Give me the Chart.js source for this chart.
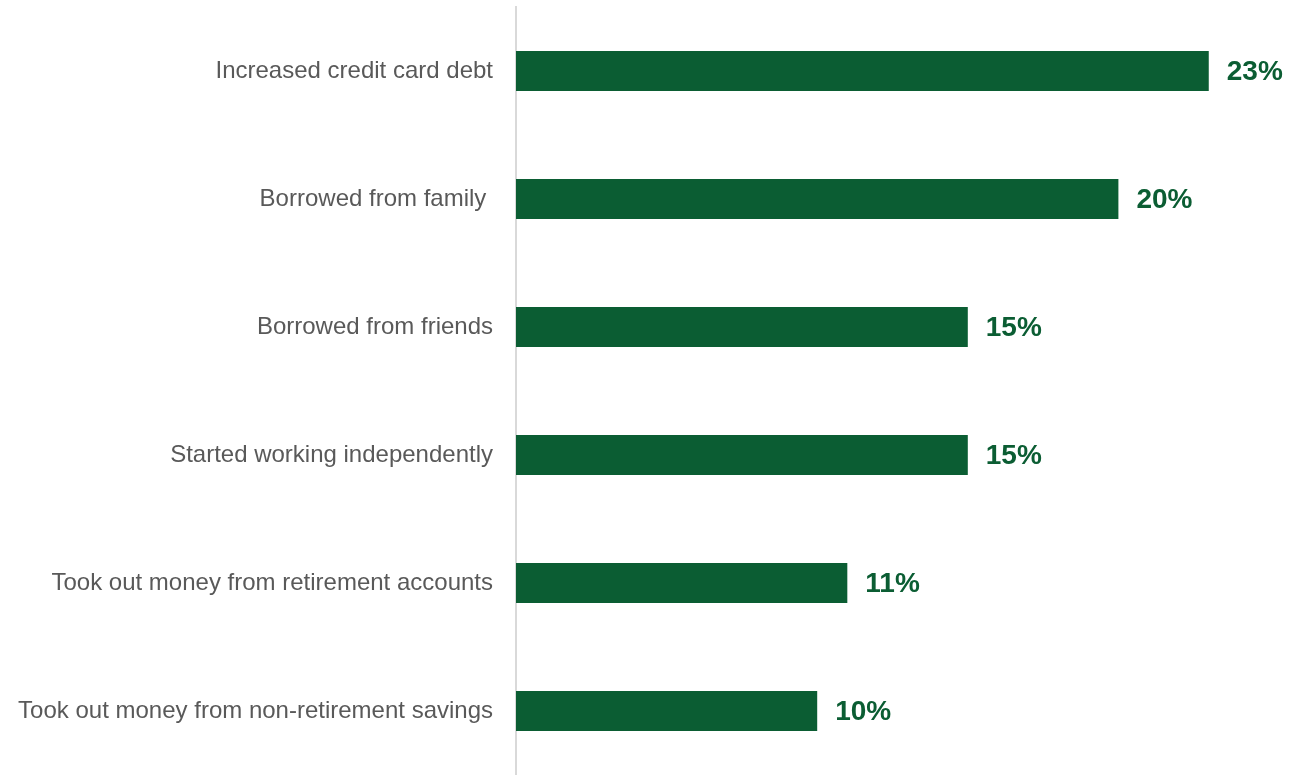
<!DOCTYPE html>
<html>
<head>
<meta charset="utf-8">
<script src="https://cdn.jsdelivr.net/npm/chart.js@4"></script>
<style>
  html, body { margin: 0; padding: 0; background: #fff; }
  #wrap { width: 1312px; height: 775px; }
</style>
</head>
<body>
<div id="wrap"><canvas id="debtChart"></canvas></div>
<script>
// Ways people covered their expenses (% of respondents)
const categories = [
    "Increased credit card debt",
    "Borrowed from family ",
    "Borrowed from friends",
    "Started working independently",
    "Took out money from retirement accounts",
    "Took out money from non-retirement savings"
];
const shares = [23, 20, 15, 15, 11, 10];

const GREEN = "#0b5d33";
const GREY_TEXT = "#595959";

// Draws the "23%" style value at the end of each bar
const valueLabels = {
    id: "valueLabels",
    afterDatasetsDraw(chart) {
        const ctx = chart.ctx;
        const meta = chart.getDatasetMeta(0);
        ctx.save();
        ctx.font = "bold 28px 'Liberation Sans', Arial, sans-serif";
        ctx.fillStyle = GREEN;
        ctx.textAlign = "left";
        ctx.textBaseline = "middle";
        meta.data.forEach((bar, i) => {
            ctx.fillText(shares[i] + "%", bar.x + 18, bar.y + 1);
        });
        ctx.restore();
    }
};

new Chart(document.getElementById("debtChart"), {
    type: "bar",
    data: {
        labels: categories,
        datasets: [{
            data: shares,
            backgroundColor: GREEN,
            borderWidth: 0,
            categoryPercentage: 1,
            barPercentage: 0.3125
        }]
    },
    options: {
        indexAxis: "y",
        responsive: true,
        maintainAspectRatio: false,
        animation: false,
        layout: { padding: { top: 7, right: 43, bottom: 0, left: 0 } },
        plugins: {
            legend: { display: false },
            tooltip: { enabled: false }
        },
        scales: {
            x: {
                display: false,
                min: 0,
                max: 25
            },
            y: {
                grid: { display: false },
                border: { display: true, color: "#d9d9d9", width: 2 },
                ticks: {
                    color: GREY_TEXT,
                    padding: 15,
                    font: { family: "'Liberation Sans', Arial, sans-serif", size: 24 }
                },
                afterFit(scale) {
                    // fixed label column, no extra room above/below for tick text
                    scale.width = 516;
                    scale.paddingTop = 0;
                    scale.paddingBottom = 0;
                }
            }
        }
    },
    plugins: [valueLabels]
});
</script>
</body>
</html>
